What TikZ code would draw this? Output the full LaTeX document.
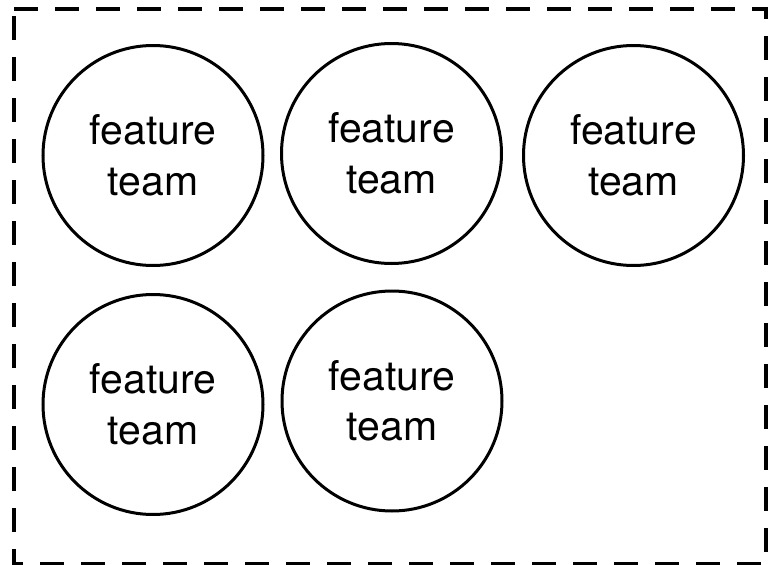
\documentclass[tikz,border=0pt]{standalone}
\usepackage{fontspec}
\setmainfont{TeX Gyre Heros}
\usepackage{tikz}

\tikzset{
  team/.style={draw, circle, line width=3pt, minimum size=220pt, inner sep=0pt,
    align=center, font=\fontsize{41}{50.5}\selectfont},
  boundary/.style={line width=3.2pt, dash pattern=on 24pt off 17pt}
}

\begin{document}
\begin{tikzpicture}[x=1pt, y=-1pt]
  \useasboundingbox (0,0) rectangle (769,565);
  \draw[boundary] (14,9) -- (766,9) -- (766,564) -- (14,564) -- cycle;

  \coordinate (A) at (153,155.5);
  \coordinate (B) at (391.5,153.5);
  \coordinate (C) at (633.5,155.5);
  \coordinate (D) at (153,404.5);
  \coordinate (E) at (392,401);

  \node[team] (teamA) at (A) {feature\\team};
  \node[team] (teamB) at (B) {feature\\team};
  \node[team] (teamC) at (C) {feature\\team};
  \node[team] (teamD) at (D) {feature\\team};
  \node[team] (teamE) at (E) {feature\\team};
\end{tikzpicture}
\end{document}
